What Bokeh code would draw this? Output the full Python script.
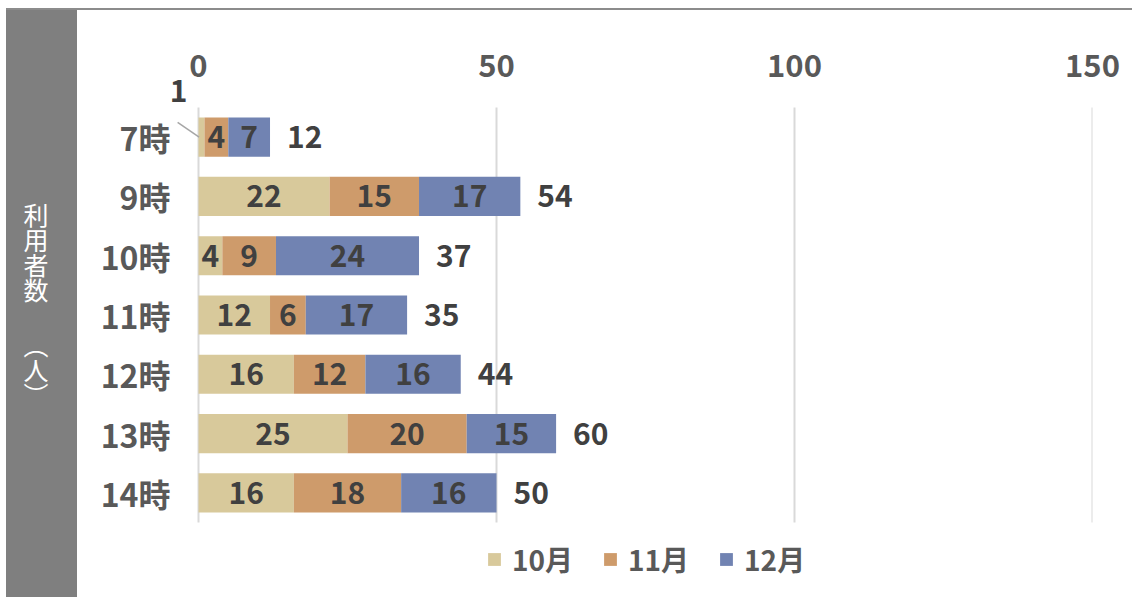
import numpy as np
from bokeh.plotting import figure
from bokeh.layouts import row, column
from bokeh.models import (ColumnDataSource, Range1d, FixedTicker, Legend, LegendItem, Div)
from bokeh.embed import file_html
from bokeh.resources import INLINE
from bokeh.core.properties import value

# ---- data ----
hours = ["7時", "9時", "10時", "11時", "12時", "13時", "14時"]
series = ["10月", "11月", "12月"]
oct_vals = [1, 22, 4, 12, 16, 25, 16]
nov_vals = [4, 15, 9, 6, 12, 20, 18]
dec_vals = [7, 17, 24, 17, 16, 15, 16]
x_ticks = [0, 50, 100, 150]
axis_title = "利用者数"
axis_unit = "（人）"

colors = ["#D8C99B", "#CE9B6B", "#7183B2"]
FONT = "Noto Sans CJK JP"
DARK = "#404040"
GREY = "#595959"

# ---- geometry (page pixels) ----
TOTAL_W = 1126          # from x=6 to 1132
BAND_W = 71
H = 587                 # from y=10 to 597
MAIN_W = TOTAL_W - BAND_W
FRAME_L, FRAME_R, FRAME_T, FRAME_B = 166, 1092, 78, 597
X0_PX = 198             # where value 0 sits
ROW_TOP_PX, ROW_BOT_PX = 107, 522

px_per_unit = (FRAME_R - X0_PX) / x_ticks[-1]
x_start = -(X0_PX - FRAME_L) / px_per_unit
row_h = (ROW_BOT_PX - ROW_TOP_PX) / len(hours)
y_top = -0.5 - (ROW_TOP_PX - FRAME_T) / row_h
y_bot = len(hours) - 0.5 + (FRAME_B - ROW_BOT_PX) / row_h

# ---- top rule & left band ----
top_rule = Div(width=TOTAL_W, height=2, margin=0,
               styles={"background-color": "#8C8C8C"})
band_html = (
    '<div style="writing-mode:vertical-rl;font-family:\'Noto Sans CJK JP\';'
    'font-size:25px;line-height:25px;color:#FFFFFF;width:25px;height:240px;'
    'margin-left:17px;margin-top:193px;">'
    f'{axis_title}<span style="padding-top:30px">{axis_unit}</span></div>'
)
band = Div(text=band_html, width=BAND_W, height=H, margin=0,
           styles={"background-color": "#7F7F7F", "overflow": "hidden"})

# ---- main chart ----
p = figure(width=MAIN_W, height=H, output_backend="svg", toolbar_location=None,
           x_range=Range1d(x_start, x_ticks[-1]), y_range=Range1d(y_bot, y_top),
           x_axis_location="above",
           min_border_left=FRAME_L - 77, min_border_right=1132 - FRAME_R,
           min_border_top=FRAME_T - 10, min_border_bottom=0)
p.outline_line_color = None
p.background_fill_color = "white"
p.border_fill_color = "white"

idx = list(range(len(hours)))
vals = np.array([oct_vals, nov_vals, dec_vals], dtype=float)
cum = np.cumsum(vals, axis=0)
lefts = cum - vals
totals = cum[-1]

# vertical gridlines at tick values, spanning the category rows
p.segment(x0=x_ticks, x1=x_ticks, y0=[-0.5] * len(x_ticks), y1=[len(hours) - 0.5] * len(x_ticks),
          line_color="#D9D9D9", line_width=2)

renderers = []
for k in range(3):
    src = ColumnDataSource(dict(y=idx, left=lefts[k], right=cum[k]))
    r = p.hbar(y="y", left="left", right="right", height=0.66, source=src,
               fill_color=colors[k], line_color=None)
    renderers.append(r)

# segment labels (tiny segments get a leader label instead)
lx, ly, lt = [], [], []
sx, sy, st = [], [], []
for k in range(3):
    for i in idx:
        mid = (lefts[k, i] + cum[k, i]) / 2
        if vals[k, i] < 2:
            sx.append(mid); sy.append(i); st.append(str(int(vals[k, i])))
            continue
        lx.append(mid); ly.append(i); lt.append(str(int(vals[k, i])))
p.text(x=lx, y=ly, text=lt, text_align="center", text_baseline="middle",
       text_font=value(FONT), text_font_style="bold", text_font_size="30px",
       text_color=DARK)

# leader line + small label
p.segment(x0=[x - 4.0 for x in sx], y0=[y - 0.25 for y in sy], x1=[x - 0.4 for x in sx], y1=sy,
          line_color="#A6A6A6", line_width=1.5)
p.text(x=sx, y=sy, text=st, x_offset=-23, y_offset=-46,
       text_align="center", text_baseline="middle",
       text_font=value(FONT), text_font_style="bold", text_font_size="30px",
       text_color=DARK)

# totals
p.text(x=list(totals), y=idx, text=[str(int(t)) for t in totals], x_offset=17,
       text_align="left", text_baseline="middle",
       text_font=value(FONT), text_font_style="bold", text_font_size="30px",
       text_color=DARK)

# axes
p.xaxis.ticker = FixedTicker(ticks=x_ticks)
p.xaxis.axis_line_color = None
p.xaxis.major_tick_line_color = None
p.xaxis.minor_tick_line_color = None
p.xaxis.major_label_standoff = -4
p.xaxis.major_label_text_font = FONT
p.xaxis.major_label_text_font_style = "bold"
p.xaxis.major_label_text_font_size = "31px"
p.xaxis.major_label_text_color = GREY

p.yaxis.ticker = FixedTicker(ticks=idx)
p.yaxis.major_label_overrides = {i: h for i, h in zip(idx, hours)}
p.yaxis.axis_line_color = None
p.yaxis.major_tick_line_color = None
p.yaxis.minor_tick_line_color = None
p.yaxis.major_label_standoff = -10
p.yaxis.major_label_text_font = FONT
p.yaxis.major_label_text_font_style = "bold"
p.yaxis.major_label_text_font_size = "32px"
p.yaxis.major_label_text_color = GREY

p.grid.visible = False

# legend inside the (extended) frame, under the bars
legend = Legend(items=[LegendItem(label=s, renderers=[r]) for s, r in zip(series, renderers)],
                orientation="horizontal", location=(320, 18),
                glyph_width=16, glyph_height=16, label_standoff=10, spacing=29,
                label_text_font=FONT, label_text_font_style="bold",
                label_text_font_size="28px", label_text_color=GREY,
                border_line_color=None, background_fill_alpha=0,
                padding=0, margin=0)
p.add_layout(legend)

layout = column(top_rule, row(band, p, spacing=0), spacing=0, margin=(8, 0, 0, 6))
open("out.html", "w").write(file_html(layout, INLINE))
